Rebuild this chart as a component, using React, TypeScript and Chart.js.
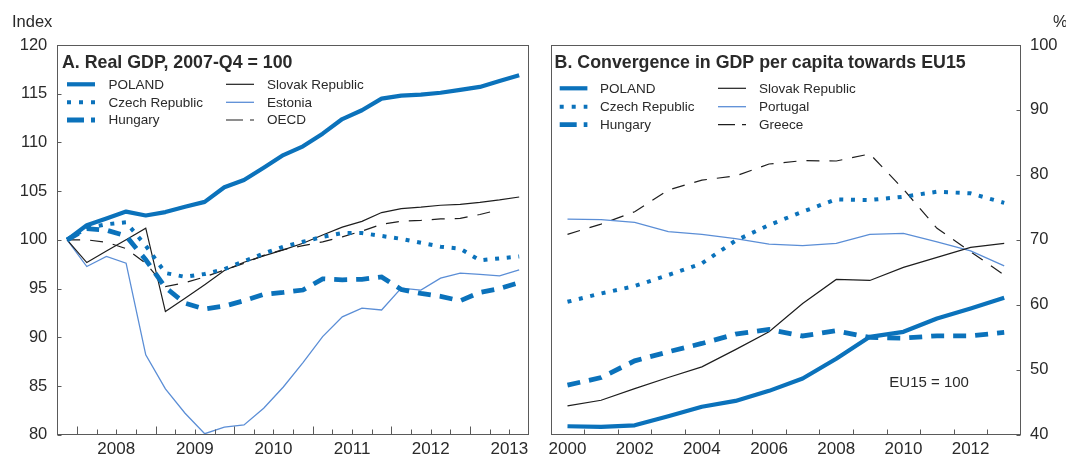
import React, { useEffect, useRef } from "react";
import { Chart, registerables } from "chart.js";

Chart.register(...registerables);

const FONT = '"Liberation Sans", Arial, Helvetica, sans-serif';
const TEXT = "#2a2a2a";
const FRAME = "#5a5a5a";
const BLUE = "#0b72bb";
const LIGHT_BLUE = "#5b8ed6";
const BLACK = "#1e1e1e";

// ---- Panel A: real GDP by quarter, 2007-Q4 = 100
const quarters = [
  "2007-Q4",
  "2008-Q1", "2008-Q2", "2008-Q3", "2008-Q4",
  "2009-Q1", "2009-Q2", "2009-Q3", "2009-Q4",
  "2010-Q1", "2010-Q2", "2010-Q3", "2010-Q4",
  "2011-Q1", "2011-Q2", "2011-Q3", "2011-Q4",
  "2012-Q1", "2012-Q2", "2012-Q3", "2012-Q4",
  "2013-Q1", "2013-Q2", "2013-Q3",
];
const gdpYearLabels = ["2008", "2009", "2010", "2011", "2012", "2013"];
const gdpTicks = [80, 120, 5]; // min, max, step

const gdpPoland = [100, 101.5, 102.2, 102.9, 102.5, 102.85, 103.4, 103.9, 105.4, 106.15, 107.4, 108.7, 109.6, 110.9, 112.4, 113.3, 114.5, 114.8, 114.9, 115.1, 115.4, 115.7, 116.3, 116.9];
const gdpCzech = [100, 101.2, 101.6, 101.8, 99.4, 96.6, 96.2, 96.5, 97.0, 97.8, 98.6, 99.3, 99.8, 100.3, 100.7, 100.7, 100.4, 100.1, 99.7, 99.3, 99.1, 97.9, 98.1, 98.3];
const gdpHungary = [100, 101.15, 101.0, 100.4, 97.95, 95.1, 93.5, 92.9, 93.2, 93.75, 94.4, 94.6, 94.85, 96.0, 95.9, 95.95, 96.2, 94.9, 94.5, 94.2, 93.75, 94.6, 95.0, 95.6];
const gdpSlovak = [100, 97.67, 98.85, 100.0, 101.2, 92.64, 94.0, 95.4, 96.85, 97.7, 98.36, 98.97, 99.65, 100.5, 101.3, 101.9, 102.8, 103.2, 103.35, 103.55, 103.65, 103.85, 104.1, 104.4];
const gdpEstonia = [100, 97.26, 98.29, 97.6, 88.2, 84.7, 82.2, 80.1, 80.77, 81.0, 82.72, 84.9, 87.4, 90.07, 92.1, 93.0, 92.8, 95.04, 94.85, 96.07, 96.58, 96.45, 96.3, 96.92];
const gdpOecd = [100, 100.0, 99.75, 99.1, 97.6, 95.2, 95.6, 96.2, 96.9, 97.6, 98.4, 99.0, 99.4, 99.8, 100.3, 100.9, 101.6, 101.9, 102.0, 102.15, 102.2, 102.6, 103.1, null];

// ---- Panel B: GDP per capita relative to EU15 (EU15 = 100)
const years = [2000, 2001, 2002, 2003, 2004, 2005, 2006, 2007, 2008, 2009, 2010, 2011, 2012, 2013];
const yearLabels = ["2000", "2002", "2004", "2006", "2008", "2010", "2012"];
const convTicks = [40, 100, 10]; // min, max, step

const convPoland = [41.3, 41.2, 41.45, 42.85, 44.3, 45.2, 46.75, 48.66, 51.7, 55.07, 55.84, 57.9, 59.44, 61.08];
const convCzech = [60.46, 61.75, 62.88, 64.58, 66.37, 69.87, 72.28, 74.33, 76.24, 76.13, 76.64, 77.41, 77.16, 75.7];
const convHungary = [47.63, 48.8, 51.37, 52.76, 54.05, 55.48, 56.2, 55.2, 56.0, 54.97, 54.87, 55.23, 55.23, 55.74];
const convSlovak = [44.44, 45.3, 47.1, 48.8, 50.45, 53.1, 55.84, 60.2, 63.9, 63.75, 65.76, 67.3, 68.84, 69.46];
const convPortugal = [73.2, 73.1, 72.7, 71.25, 70.84, 70.2, 69.35, 69.1, 69.46, 70.85, 71.0, 69.7, 68.3, 66.0];
const convGreece = [70.85, 72.43, 74.33, 77.67, 79.2, 79.83, 81.68, 82.2, 82.14, 83.22, 77.8, 71.77, 68.17, 64.6];

// Line styles shared by both panels
const styleThickSolid = { borderColor: BLUE, borderWidth: 4.2, borderDash: [] as number[], borderJoinStyle: "round" };
const styleThickDotted = { borderColor: BLUE, borderWidth: 4, borderDash: [4, 7.7] };
const styleThickDashed = { borderColor: BLUE, borderWidth: 4.8, borderDash: [13, 9] };
const styleThinBlack = { borderColor: BLACK, borderWidth: 1.2, borderDash: [] as number[] };
const styleThinBlue = { borderColor: LIGHT_BLUE, borderWidth: 1.3, borderDash: [] as number[] };
const styleThinDashed = { borderColor: BLACK, borderWidth: 1.2, borderDash: [13, 10] };

// dash patterns for the short legend samples
const legendDashes = [[], [4, 8], [17, 7, 4], [], [], [17, 7, 4]];

function series(label: string, xs: number[], values: (number | null)[], style: any) {
  return {
    label,
    data: values.map((v, i) => ({ x: xs[i], y: v })),
    pointRadius: 0,
    fill: false,
    tension: 0,
    borderCapStyle: "butt",
    ...style,
  };
}

type Mark = { scale: string; values?: number[]; length: number; side?: string };
type Decor = {
  marks: Mark[];
  legend: { rows: number[]; cols: { x1: number; x2: number; text: number }[]; font: string };
  texts: { text: string; x: number; y: number; font: string }[];
};

// Frame, inward tick marks, in-plot legend, titles and notes
function makeDecor(cfg: Decor) {
  return {
    id: "panelDecor",
    afterDatasetsDraw(chart: any) {
      const { ctx, chartArea: a, scales } = chart;
      ctx.save();
      ctx.setLineDash([]);
      ctx.strokeStyle = FRAME;
      ctx.lineWidth = 1;
      const L = Math.round(a.left) + 0.5;
      const R = Math.round(a.right) - 0.5;
      const T = Math.round(a.top) + 0.5;
      const B = Math.round(a.bottom) - 0.5;
      ctx.strokeRect(L, T, R - L, B - T);

      for (const m of cfg.marks) {
        const s = scales[m.scale];
        const vals: number[] = m.values ? m.values : s.ticks.map((t: any) => t.value);
        ctx.beginPath();
        for (const v of vals) {
          const p = Math.round(s.getPixelForValue(v)) + 0.5;
          if (s.isHorizontal()) {
            ctx.moveTo(p, B);
            ctx.lineTo(p, B - m.length);
          } else if (m.side === "right") {
            ctx.moveTo(R, p);
            ctx.lineTo(R - m.length, p);
          } else {
            ctx.moveTo(L, p);
            ctx.lineTo(L + m.length, p);
          }
        }
        ctx.stroke();
      }

      const lg = cfg.legend;
      chart.data.datasets.forEach((ds: any, i: number) => {
        const col = lg.cols[Math.floor(i / lg.rows.length)];
        const y = lg.rows[i % lg.rows.length];
        ctx.save();
        ctx.strokeStyle = ds.borderColor;
        ctx.lineWidth = ds.borderWidth;
        ctx.lineCap = "butt";
        ctx.setLineDash(legendDashes[i] || []);
        ctx.beginPath();
        ctx.moveTo(col.x1, y);
        ctx.lineTo(col.x2, y);
        ctx.stroke();
        ctx.restore();
        ctx.fillStyle = TEXT;
        ctx.font = lg.font;
        ctx.textAlign = "left";
        ctx.textBaseline = "middle";
        ctx.fillText(ds.label, col.text, y + 0.5);
      });

      for (const t of cfg.texts) {
        ctx.fillStyle = TEXT;
        ctx.font = t.font;
        ctx.textAlign = "left";
        ctx.textBaseline = "alphabetic";
        ctx.fillText(t.text, t.x, t.y);
      }
      ctx.restore();
    },
  };
}

const tickFont = { family: FONT, size: 16.5 };
const xTickFont = { family: FONT, size: 17 };
const legendFont = `13.5px ${FONT}`;
const titleFont = `bold 17.8px ${FONT}`;

function makeGdpChart(canvas: HTMLCanvasElement) {
  const xs = quarters.map((_, i) => i);
  // quarter boundaries; those before a first quarter mark a new year
  const minor: number[] = [];
  const major: number[] = [];
  for (let i = 0; i < quarters.length - 1; i++) {
    minor.push(i + 0.5);
    if (quarters[i + 1].endsWith("Q1")) major.push(i + 0.5);
  }
  // each year label sits at mid-year (between Q2 and Q3)
  const labelVals = gdpYearLabels.map((y) => quarters.indexOf(`${y}-Q2`) + 0.5);

  const decor = makeDecor({
    marks: [
      { scale: "x", values: minor, length: 5 },
      { scale: "x", values: major, length: 8 },
      { scale: "y", length: 4, side: "left" },
    ],
    legend: {
      rows: [84.3, 102.3, 120],
      cols: [
        { x1: 67, x2: 95, text: 108.5 },
        { x1: 226, x2: 254, text: 267 },
      ],
      font: legendFont,
    },
    texts: [
      { text: "A. Real GDP, 2007-Q4 = 100", x: 62, y: 68, font: titleFont },
      { text: "Index", x: 12, y: 26.5, font: `16.5px ${FONT}` },
    ],
  });

  return new Chart(canvas, {
    type: "line",
    data: {
      datasets: [
        series("POLAND", xs, gdpPoland, styleThickSolid),
        series("Czech Republic", xs, gdpCzech, styleThickDotted),
        series("Hungary", xs, gdpHungary, styleThickDashed),
        series("Slovak Republic", xs, gdpSlovak, styleThinBlack),
        series("Estonia", xs, gdpEstonia, styleThinBlue),
        series("OECD", xs, gdpOecd, styleThinDashed),
      ] as any,
    },
    options: {
      animation: false,
      responsive: false,
      devicePixelRatio: 1,
      layout: { padding: { top: 45, right: 11, left: 0, bottom: 0 } },
      plugins: {
        legend: { display: false },
        tooltip: { enabled: false },
      },
      scales: {
        x: {
          type: "linear",
          min: xs[0] - 0.5,
          max: xs[xs.length - 1] + 0.5,
          grid: { display: false, drawTicks: false },
          border: { display: false },
          afterBuildTicks: (s: any) => {
            s.ticks = labelVals.map((v) => ({ value: v }));
          },
          afterFit: (s: any) => {
            s.height = 23.3;
          },
          ticks: {
            autoSkip: false,
            maxRotation: 0,
            padding: 4,
            color: TEXT,
            font: xTickFont,
            callback: (_v: any, i: number) => gdpYearLabels[i],
          },
        },
        y: {
          type: "linear",
          min: gdpTicks[0],
          max: gdpTicks[1],
          grid: { display: false, drawTicks: false },
          border: { display: false },
          afterFit: (s: any) => {
            s.width = 57.3;
          },
          ticks: { stepSize: gdpTicks[2], padding: 10, color: TEXT, font: tickFont },
        },
      } as any,
    },
    plugins: [decor as any],
  });
}

function makeConvChart(canvas: HTMLCanvasElement) {
  const marks = years.slice(0, -1).map((y) => y + 0.5);
  const labelVals = yearLabels.map(Number);

  const decor = makeDecor({
    marks: [
      { scale: "x", values: marks, length: 5 },
      { scale: "y", length: 4, side: "right" },
    ],
    legend: {
      rows: [88.3, 106.7, 124.7],
      cols: [
        { x1: 19.7, x2: 47.4, text: 60 },
        { x1: 178, x2: 206, text: 219 },
      ],
      font: legendFont,
    },
    texts: [
      { text: "B. Convergence in GDP per capita towards EU15", x: 14.6, y: 68, font: titleFont },
      { text: "EU15 = 100", x: 349.3, y: 387, font: `15px ${FONT}` },
      { text: "%", x: 513, y: 26.5, font: `16.5px ${FONT}` },
    ],
  });

  return new Chart(canvas, {
    type: "line",
    data: {
      datasets: [
        series("POLAND", years, convPoland, styleThickSolid),
        series("Czech Republic", years, convCzech, styleThickDotted),
        series("Hungary", years, convHungary, styleThickDashed),
        series("Slovak Republic", years, convSlovak, styleThinBlack),
        series("Portugal", years, convPortugal, styleThinBlue),
        series("Greece", years, convGreece, styleThinDashed),
      ] as any,
    },
    options: {
      animation: false,
      responsive: false,
      devicePixelRatio: 1,
      layout: { padding: { top: 45, right: 0, left: 10.7, bottom: 0 } },
      plugins: {
        legend: { display: false },
        tooltip: { enabled: false },
      },
      scales: {
        x: {
          type: "linear",
          min: years[0] - 0.5,
          max: years[years.length - 1] + 0.5,
          grid: { display: false, drawTicks: false },
          border: { display: false },
          afterBuildTicks: (s: any) => {
            s.ticks = labelVals.map((v) => ({ value: v }));
          },
          afterFit: (s: any) => {
            s.height = 23.3;
          },
          ticks: {
            autoSkip: false,
            maxRotation: 0,
            padding: 4,
            color: TEXT,
            font: xTickFont,
            callback: (_v: any, i: number) => yearLabels[i],
          },
        },
        y: {
          type: "linear",
          position: "right",
          min: convTicks[0],
          max: convTicks[1],
          grid: { display: false, drawTicks: false },
          border: { display: false },
          afterFit: (s: any) => {
            s.width = 45;
          },
          ticks: { stepSize: convTicks[2], padding: 9, color: TEXT, font: tickFont },
        },
      } as any,
    },
    plugins: [decor as any],
  });
}

export default function App() {
  const refA = useRef<HTMLCanvasElement | null>(null);
  const refB = useRef<HTMLCanvasElement | null>(null);

  useEffect(() => {
    if (!refA.current || !refB.current) return;
    const a = makeGdpChart(refA.current);
    const b = makeConvChart(refB.current);
    return () => {
      a.destroy();
      b.destroy();
    };
  }, []);

  return (
    <div style={{ position: "absolute", left: 0, top: 0, width: 1066, height: 458, background: "#fff", overflow: "hidden" }}>
      <canvas ref={refA} width={540} height={458} style={{ position: "absolute", left: 0, top: 0 }} />
      <canvas ref={refB} width={526} height={458} style={{ position: "absolute", left: 540, top: 0 }} />
    </div>
  );
}
